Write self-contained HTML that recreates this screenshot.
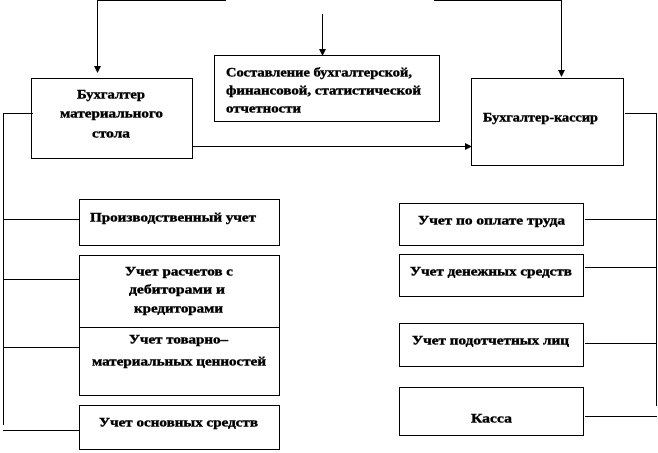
<!DOCTYPE html>
<html><head><meta charset="utf-8"><style>
html,body{margin:0;padding:0;background:#fff;}
svg{display:block;}
text{font-family:"Liberation Serif","DejaVu Serif",serif;font-weight:bold;font-size:13px;fill:#000;stroke:#000;stroke-width:0.4;dominant-baseline:central;}
</style></head><body>
<svg width="658" height="453" viewBox="0 0 658 453" xmlns="http://www.w3.org/2000/svg">
<g stroke="#000" stroke-width="1" fill="none">
<rect x="31.5" y="78.5" width="161" height="80"/>
<rect x="214.5" y="55.5" width="225" height="66"/>
<rect x="471.5" y="78.5" width="152" height="87"/>
<rect x="79.5" y="199.5" width="200" height="46"/>
<rect x="79.5" y="255.5" width="200" height="72"/>
<rect x="79.5" y="327.5" width="200" height="68"/>
<rect x="79.5" y="405.5" width="200" height="44"/>
<rect x="399.5" y="203.5" width="184" height="42"/>
<rect x="399.5" y="254.5" width="184" height="42"/>
<rect x="399.5" y="323.5" width="184" height="43"/>
<rect x="399.5" y="387.5" width="184" height="48"/>
<polyline points="97.5,68 97.5,0.5 226,0.5"/>
<polyline points="434,0.5 561.5,0.5 561.5,70"/>
<line x1="322.5" y1="14" x2="322.5" y2="50"/>
<line x1="193" y1="146.5" x2="466" y2="146.5"/>
<polyline points="33,113.5 3.5,113.5 3.5,425"/>
<line x1="3" y1="219.5" x2="80" y2="219.5"/>
<line x1="3" y1="279.5" x2="80" y2="279.5"/>
<line x1="3" y1="347.5" x2="80" y2="347.5"/>
<line x1="3" y1="430.5" x2="79" y2="430.5"/>
<polyline points="625,113.5 656.5,113.5 656.5,406"/>
<line x1="585" y1="219.5" x2="657" y2="219.5"/>
<line x1="585" y1="267.5" x2="657" y2="267.5"/>
<line x1="585" y1="343.5" x2="657" y2="343.5"/>
<line x1="585" y1="416.5" x2="657" y2="416.5"/>
</g>
<g fill="#000">
<polygon points="94,66 101,66 97.5,73"/>
<polygon points="319,49 326,49 322.5,56"/>
<polygon points="558,70 565,70 561.5,77"/>
<polygon points="465,143 472,146.5 465,150"/>
</g>
<text x="77" y="94" textLength="68" lengthAdjust="spacingAndGlyphs">Бухгалтер</text>
<text x="60" y="113" textLength="103" lengthAdjust="spacingAndGlyphs">материального</text>
<text x="92" y="133" textLength="38" lengthAdjust="spacingAndGlyphs">стола</text>
<text x="226" y="72" textLength="186" lengthAdjust="spacingAndGlyphs">Составление бухгалтерской,</text>
<text x="226" y="90" textLength="195" lengthAdjust="spacingAndGlyphs">финансовой, статистической</text>
<text x="226" y="108" textLength="75" lengthAdjust="spacingAndGlyphs">отчетности</text>
<text x="483" y="117" textLength="115" lengthAdjust="spacingAndGlyphs">Бухгалтер-кассир</text>
<text x="90" y="217" textLength="166" lengthAdjust="spacingAndGlyphs">Производственный учет</text>
<text x="125" y="271" textLength="108" lengthAdjust="spacingAndGlyphs">Учет расчетов с</text>
<text x="129" y="289" textLength="96" lengthAdjust="spacingAndGlyphs">дебиторами и</text>
<text x="134" y="308" textLength="89" lengthAdjust="spacingAndGlyphs">кредиторами</text>
<text x="129" y="339" textLength="99" lengthAdjust="spacingAndGlyphs">Учет товарно–</text>
<text x="92" y="361" textLength="174" lengthAdjust="spacingAndGlyphs">материальных ценностей</text>
<text x="99" y="422" textLength="159" lengthAdjust="spacingAndGlyphs">Учет основных средств</text>
<text x="418" y="220" textLength="147" lengthAdjust="spacingAndGlyphs">Учет по оплате труда</text>
<text x="410" y="271" textLength="162" lengthAdjust="spacingAndGlyphs">Учет денежных средств</text>
<text x="412" y="340" textLength="157" lengthAdjust="spacingAndGlyphs">Учет подотчетных лиц</text>
<text x="471" y="418" textLength="41" lengthAdjust="spacingAndGlyphs">Касса</text>
</svg>
</body></html>
